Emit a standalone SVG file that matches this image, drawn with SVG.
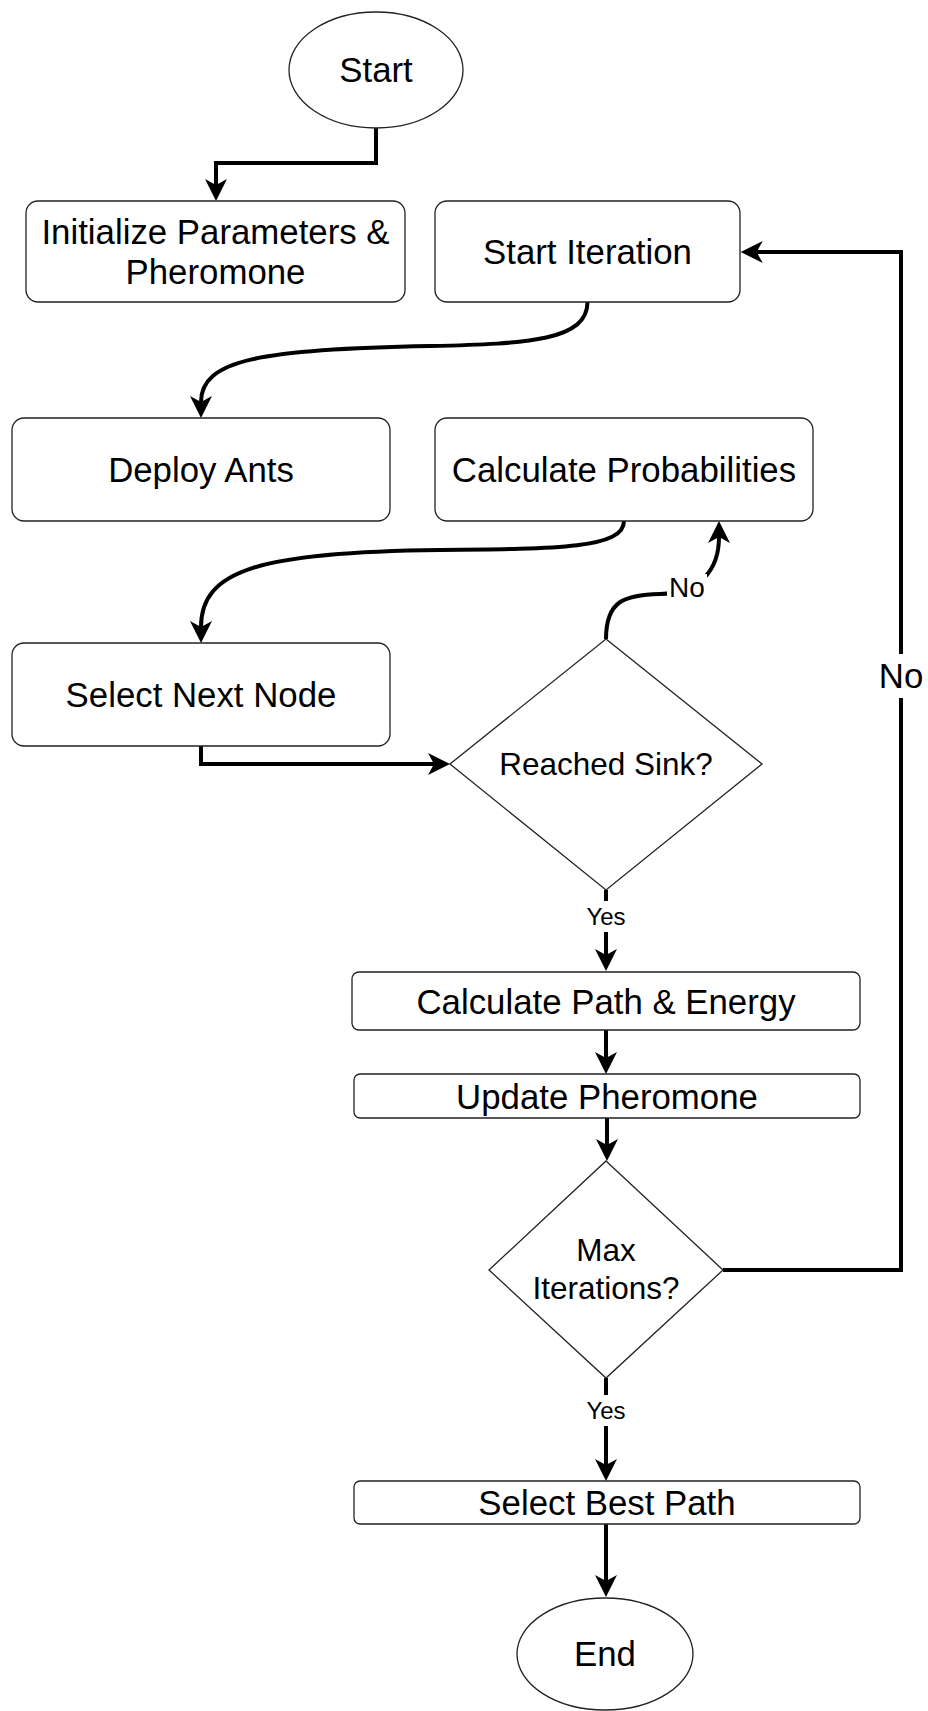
<svg xmlns="http://www.w3.org/2000/svg" width="928" height="1711" viewBox="0 0 928 1711">
<style>
.n{fill:#fff;stroke:#222;stroke-width:1.3}
.t{font-family:"Liberation Sans",Arial,sans-serif;font-size:34.8px;fill:#000;text-anchor:middle}
.d{font-size:31.5px}
.s{font-size:24px}
.c{fill:none;stroke:#000;stroke-width:4}
.lb{fill:#fff;stroke:none}
</style>
<defs>
<marker id="arr" viewBox="-8 -12 26 24" refX="0" refY="0" markerWidth="26" markerHeight="24" markerUnits="userSpaceOnUse" orient="auto">
<path d="M16,0 L-6,-11 L0,0 L-6,11 Z" fill="#000"/>
</marker>
</defs>
<rect width="928" height="1711" fill="#fff"/>
<g id="connectors">
<path class="c" d="M376,128 L376,163 L216,163 L216,185" marker-end="url(#arr)"/>
<path class="c" d="M587.5,302 C587.5,340 530,344 430,346 C260,349 201,360 201,402" marker-end="url(#arr)"/>
<path class="c" d="M624,521 C624,548 560,549 440,550 C260,552 201,570 201,627" marker-end="url(#arr)"/>
<path class="c" d="M201,746 L201,764 L434,764" marker-end="url(#arr)"/>
<path class="c" d="M606,639 C606,600 625,595 660,594 C700,593 719,570 719,537" marker-end="url(#arr)"/>
<rect class="lb" x="667" y="574" width="40" height="28"/>
<text class="t s" x="687" y="597" style="font-size:28px">No</text>
<path class="c" d="M606,890 L606,955" marker-end="url(#arr)"/>
<rect class="lb" x="584" y="901" width="44" height="31"/>
<text class="t s" x="606" y="925">Yes</text>
<path class="c" d="M606,1030 L606,1058" marker-end="url(#arr)"/>
<path class="c" d="M607,1118 L607,1145" marker-end="url(#arr)"/>
<path class="c" d="M723,1270 L901,1270 L901,252 L756.7,252" marker-end="url(#arr)"/>
<rect class="lb" x="876" y="654" width="50" height="44"/>
<text class="t" x="901" y="688">No</text>
<path class="c" d="M606,1378 L606,1465" marker-end="url(#arr)"/>
<rect class="lb" x="584" y="1395" width="44" height="31"/>
<text class="t s" x="606" y="1419">Yes</text>
<path class="c" d="M606,1524 L606,1581" marker-end="url(#arr)"/>
</g>
<g id="start">
<ellipse class="n" cx="376" cy="70" rx="87" ry="58"/>
<text class="t" x="376" y="82">Start</text>
</g>
<g id="init">
<rect class="n" x="26" y="201" width="379" height="101" rx="12"/>
<text class="t" x="215.5" y="244">Initialize Parameters &amp;</text>
<text class="t" x="215.5" y="284">Pheromone</text>
</g>
<g id="startIter">
<rect class="n" x="435" y="201" width="305" height="101" rx="12"/>
<text class="t" x="587.5" y="264">Start Iteration</text>
</g>
<g id="deploy">
<rect class="n" x="12" y="418" width="378" height="103" rx="12"/>
<text class="t" x="201" y="482">Deploy Ants</text>
</g>
<g id="calcProb">
<rect class="n" x="435" y="418" width="378" height="103" rx="12"/>
<text class="t" x="624" y="482">Calculate Probabilities</text>
</g>
<g id="selectNext">
<rect class="n" x="12" y="643" width="378" height="103" rx="12"/>
<text class="t" x="201" y="707">Select Next Node</text>
</g>
<g id="reachedSink">
<polygon class="n" points="606,639 762,764 606,890 450,764"/>
<text class="t d" x="606" y="775">Reached Sink?</text>
</g>
<g id="calcPath">
<rect class="n" x="352" y="972" width="508" height="58" rx="7"/>
<text class="t" x="606" y="1013.5">Calculate Path &amp; Energy</text>
</g>
<g id="update">
<rect class="n" x="354" y="1074" width="506" height="44" rx="6"/>
<text class="t" x="607" y="1108.5">Update Pheromone</text>
</g>
<g id="maxIter">
<polygon class="n" points="606,1161 723,1270 606,1378 489,1270"/>
<text class="t d" x="606" y="1261">Max</text>
<text class="t d" x="606" y="1299">Iterations?</text>
</g>
<g id="best">
<rect class="n" x="354" y="1481" width="506" height="43" rx="6"/>
<text class="t" x="607" y="1515">Select Best Path</text>
</g>
<g id="end">
<ellipse class="n" cx="605" cy="1654" rx="88" ry="56"/>
<text class="t" x="605" y="1666">End</text>
</g>
</svg>
